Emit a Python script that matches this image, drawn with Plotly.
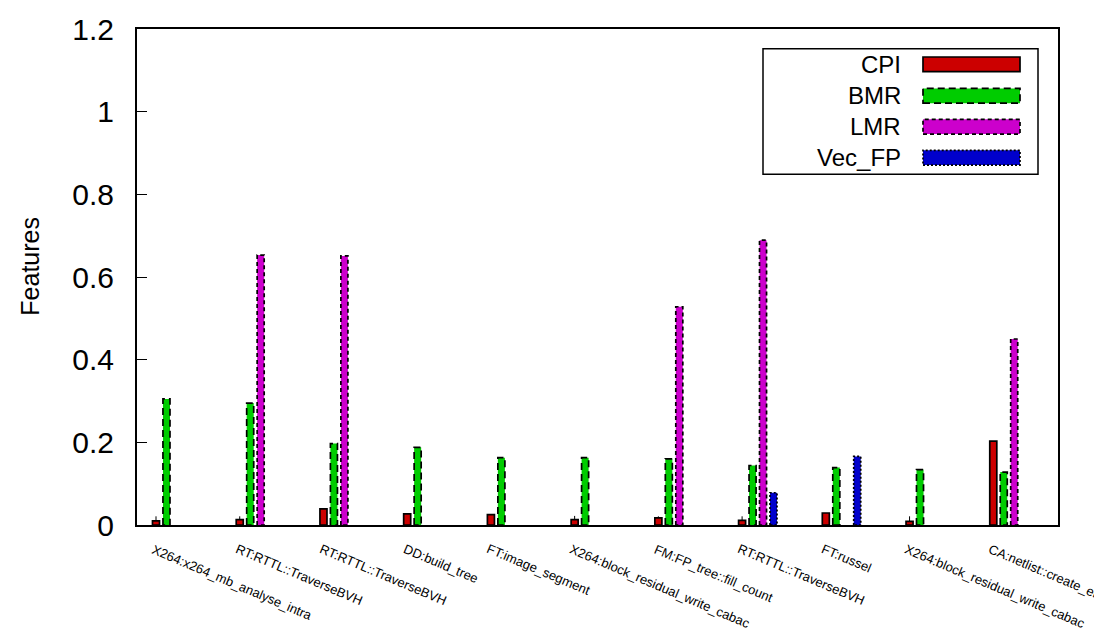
import plotly.graph_objects as go

# Kernels on the x axis
categories = [
    "X264:x264_mb_analyse_intra",
    "RT:RTTL::TraverseBVH",
    "RT:RTTL::TraverseBVH",
    "DD:build_tree",
    "FT:image_segment",
    "X264:block_residual_write_cabac",
    "FM:FP_tree::fill_count",
    "RT:RTTL::TraverseBVH",
    "FT:russel",
    "X264:block_residual_write_cabac",
    "CA:netlist::create_elements",
]

# Feature values per kernel (None = no bar)
cpi = [0.010, 0.013, 0.039, 0.027, 0.025, 0.013, 0.017, 0.011, 0.029, 0.009, 0.203]
cpi_err = [0.011, 0.008, 0.0, 0.0, 0.0, 0.009, 0.004, 0.010, 0.0, 0.012, 0.0]
bmr = [0.305, 0.295, 0.197, 0.188, 0.163, 0.163, 0.160, 0.144, 0.139, 0.134, 0.128]
lmr = [None, 0.653, 0.651, None, None, None, 0.528, 0.689, None, None, 0.450]
vec_fp = [None, None, None, None, None, None, None, 0.078, 0.166, None, None]

series_names = ["CPI", "BMR", "LMR", "Vec_FP"]
y_ticks = [0, 0.2, 0.4, 0.6, 0.8, 1, 1.2]

# Styling
FONT = "Liberation Sans, Arial"
colors = ["#cc0000", "#00cc00", "#cc00cc", "#0000cc"]
dashes = ["solid", "7px,4px", "4px,3px", "2px,2px"]
offsets = [0.227, 0.352, 0.477, 0.602]
bar_w = 0.084

# Plot-area geometry in pixels (for paper-coordinate placement)
W, H = 1094, 633
L, R, T, B = 137, 1058, 20, 525


def px_to_paper(px, py):
    return (px - L) / (R - L), (B - py) / (B - T)


fig = go.Figure()

all_series = [cpi, bmr, lmr, vec_fp]
for s, (vals, name) in enumerate(zip(all_series, series_names)):
    xs, ys = [], []
    for i, v in enumerate(vals):
        if v is None:
            continue
        c = i + offsets[s]
        x0, x1 = c - bar_w / 2, c + bar_w / 2
        xs += [x0, x0, x1, x1, x0, None]
        ys += [0, v, v, 0, 0, None]
    fig.add_trace(go.Scatter(
        x=xs, y=ys, mode="lines", fill="toself",
        fillcolor=colors[s],
        line=dict(color="black", width=1.7, dash=dashes[s]),
        name=name, showlegend=False, hoverinfo="skip",
    ))

# Error whiskers on CPI
ex, ey, ee = [], [], []
for i, (v, e) in enumerate(zip(cpi, cpi_err)):
    if e > 0:
        ex.append(i + offsets[0])
        ey.append(v)
        ee.append(e)
fig.add_trace(go.Scatter(
    x=ex, y=ey, mode="markers", marker=dict(size=0.1, color="black"),
    error_y=dict(type="data", array=ee, arrayminus=[0] * len(ee),
                 width=0, thickness=1, color="black"),
    showlegend=False, hoverinfo="skip",
))

annotations = []
# Rotated category labels
for i, name in enumerate(categories):
    annotations.append(dict(
        x=i + 0.119, y=-0.0277, xref="x", yref="paper",
        text=name, textangle=23, showarrow=False,
        xanchor="left", yanchor="top",
        font=dict(family=FONT, size=13, color="black"),
    ))

# Y-axis title
tx, ty = px_to_paper(30, 262)
annotations.append(dict(
    x=tx, y=ty, xref="paper", yref="paper", text="Features",
    textangle=-90, showarrow=False, xanchor="center", yanchor="middle",
    font=dict(family=FONT, size=25, color="black"),
))

# Legend box drawn in the upper right
shapes = []
bx0, by0 = px_to_paper(763, 168)
bx1, by1 = px_to_paper(1038, 40)
shapes.append(dict(type="rect", xref="paper", yref="paper",
                   x0=bx0, y0=by0, x1=bx1, y1=by1,
                   line=dict(color="black", width=1.5), fillcolor="white", layer="above"))
row_y = [56, 88, 119.5, 151]
for s, name in enumerate(series_names):
    sx0, sy0 = px_to_paper(923, row_y[s] + 7.5)
    sx1, sy1 = px_to_paper(1020, row_y[s] - 7.5)
    shapes.append(dict(type="rect", xref="paper", yref="paper",
                       x0=sx0, y0=sy0, x1=sx1, y1=sy1,
                       fillcolor=colors[s], layer="above",
                       line=dict(color="black", width=1.7, dash=dashes[s])))
    lx, ly = px_to_paper(903, row_y[s])
    annotations.append(dict(
        x=lx, y=ly, xref="paper", yref="paper", text=name, showarrow=False,
        xanchor="right", yanchor="middle",
        font=dict(family=FONT, size=24, color="black"),
    ))

fig.update_layout(
    width=W, height=H,
    margin=dict(l=L, r=W - R, t=T, b=H - B),
    paper_bgcolor="white", plot_bgcolor="white",
    showlegend=False,
    annotations=annotations, shapes=shapes,
    xaxis=dict(range=[0, 11], showgrid=False, zeroline=False,
               showticklabels=False, ticks="",
               showline=True, mirror=True, linecolor="black", linewidth=2),
    yaxis=dict(range=[0, 1.2], tickvals=y_ticks,
               ticktext=[("%g" % v) for v in y_ticks],
               showgrid=False, zeroline=False,
               ticks="inside", ticklen=10, tickwidth=1, tickcolor="black",
               ticklabelstandoff=15,
               showline=True, mirror=True, linecolor="black", linewidth=2,
               tickfont=dict(family=FONT, size=30, color="black")),
)

fig.write_html("out.html")
